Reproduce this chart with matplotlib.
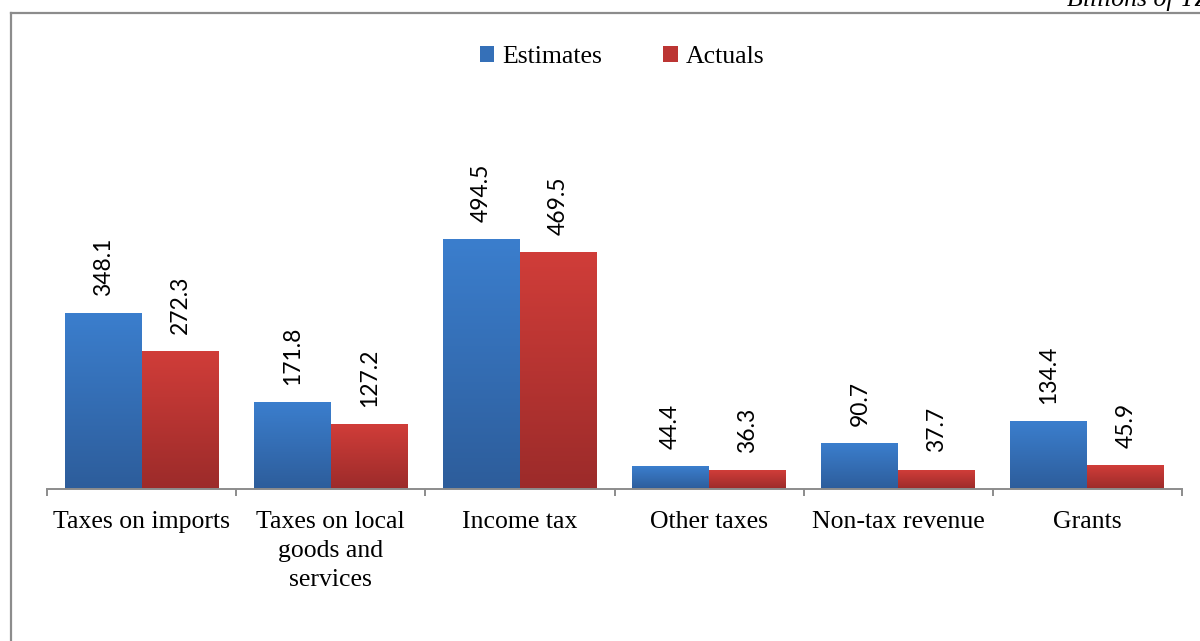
import numpy as np
import matplotlib
matplotlib.use("Agg")
from matplotlib import pyplot as plt
from matplotlib.lines import Line2D
from matplotlib.patches import Patch
from matplotlib.colors import LinearSegmentedColormap

categories = ["Taxes on imports", "Taxes on local\ngoods and\nservices", "Income tax",
              "Other taxes", "Non-tax revenue", "Grants"]
estimates = [348.1, 171.8, 494.5, 44.4, 90.7, 134.4]
actuals = [272.3, 127.2, 469.5, 36.3, 37.7, 45.9]

serif = "Liberation Serif"
sans = "Lato"

# colores de las barras (arriba -> abajo)
blue_top, blue_bot = "#3B7ECD", "#2D5D9B"
red_top, red_bot = "#D03D39", "#9C2B2A"

fig = plt.figure(figsize=(12, 6.41), dpi=100)
ax = fig.add_axes([47 / 1200, 152 / 641, 1135 / 1200, 459 / 641])

ymax = 459 / 0.5036
ax.set_xlim(0, len(categories))
ax.set_ylim(0, ymax)

w = 0.407
x = np.arange(len(categories)) + 0.5


def barra_gradiente(xc, h, top, bot):
    cmap = LinearSegmentedColormap.from_list("g", [bot, top])
    grad = np.linspace(0, 1, 100).reshape(-1, 1)
    ax.imshow(grad, cmap=cmap, origin="lower", aspect="auto",
              extent=(xc - w / 2, xc + w / 2, 0, h), zorder=2)


for xi, e, a in zip(x, estimates, actuals):
    xe = xi - w / 2
    xa = xi + w / 2
    barra_gradiente(xe, e, blue_top, blue_bot)
    barra_gradiente(xa, a, red_top, red_bot)
    ax.text(xe, e + 35, f"{e:.1f}", rotation=90, ha="center", va="bottom",
            fontsize=16.5, family=sans, color="black")
    ax.text(xa, a + 35, f"{a:.1f}", rotation=90, ha="center", va="bottom",
            fontsize=16.5, family=sans, color="black")

ax.set_xlim(0, len(categories))
ax.set_ylim(0, ymax)

# ejes
for s in ["top", "left", "right"]:
    ax.spines[s].set_visible(False)
ax.spines["bottom"].set_color("#8C8C8C")
ax.spines["bottom"].set_linewidth(1.4)
ax.set_yticks([])
ax.set_xticks(np.arange(len(categories) + 1))
ax.set_xticklabels([])
ax.tick_params(axis="x", which="major", direction="out", length=5, width=1.4, color="#8C8C8C")
ax.set_xticks(x, minor=True)
ax.set_xticklabels(categories, minor=True, fontsize=18.5, family=serif, linespacing=1.4)
ax.tick_params(axis="x", which="minor", length=0, pad=16)
ax.patch.set_visible(False)

# leyenda
handles = [Patch(facecolor="#3570B8", label="Estimates"),
           Patch(facecolor="#BC3533", label="Actuals")]
fig.legend(handles=handles, loc="center", bbox_to_anchor=(622 / 1200, 1 - 57 / 641),
           ncol=2, frameon=False, prop={"family": serif, "size": 18.5},
           handlelength=0.55, handleheight=0.55, handletextpad=0.3, columnspacing=2.4)

# marco y unidad
fig.add_artist(Line2D([11 / 1200, 1.0], [1 - 13 / 641, 1 - 13 / 641],
                      transform=fig.transFigure, color="#8C8C8C", lw=1.6))
fig.add_artist(Line2D([11 / 1200, 11 / 1200], [0, 1 - 13 / 641],
                      transform=fig.transFigure, color="#8C8C8C", lw=1.6))
fig.text(1067 / 1200, 1 - 6 / 641, "Billions of TZS", ha="left", va="baseline",
         fontsize=18.5, family=serif, style="italic")

fig.savefig("out.png", dpi=100)
